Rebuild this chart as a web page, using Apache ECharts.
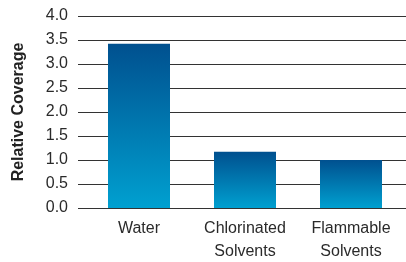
<!DOCTYPE html>
<html><head><meta charset="utf-8">
<script src="https://cdn.jsdelivr.net/npm/echarts@6/dist/echarts.min.js"></script>
<style>html,body{margin:0;padding:0;background:#fff}#c{width:406px;height:262px}</style>
</head><body><div id="c"></div>
<script>
var categories = ['Water', 'Chlorinated\nSolvents', 'Flammable\nSolvents'];
var coverage = [3.42, 1.17, 1.0];
var yTicks = { min: 0, max: 4, interval: 0.5 };
var yTitle = 'Relative Coverage';

var chart = echarts.init(document.getElementById('c'), null, { renderer: 'canvas' });
var font = '"Liberation Sans", Arial, sans-serif';
chart.setOption({
  animation: false,
  grid: [
    { left: 78, right: 0, top: 16, bottom: 54, containLabel: false, outerBoundsMode: 'none' },
    { left: 86, right: 2, top: 16, bottom: 54, containLabel: false, outerBoundsMode: 'none' }
  ],
  xAxis: [
    { type: 'category', gridIndex: 0, data: categories, show: false },
    { type: 'category', gridIndex: 1, data: categories,
      axisLine: { show: false }, axisTick: { show: false },
      axisLabel: { interval: 0, color: '#2a2a2a', fontFamily: font, fontSize: 16, lineHeight: 23, margin: 9 } }
  ],
  yAxis: [
    { type: 'value', gridIndex: 0, min: yTicks.min, max: yTicks.max, interval: yTicks.interval,
      axisLine: { show: false }, axisTick: { show: false },
      axisLabel: { color: '#2a2a2a', fontFamily: font, fontSize: 16, margin: 10,
        formatter: function (v) { return v.toFixed(1); } },
      splitLine: { show: true, lineStyle: { color: '#333', width: 1 } },
      name: yTitle, nameLocation: 'middle', nameGap: 51, nameRotate: 90,
      nameTextStyle: { color: '#222', fontFamily: font, fontSize: 16, fontWeight: 'bold' } },
    { type: 'value', gridIndex: 1, min: yTicks.min, max: yTicks.max, interval: yTicks.interval, show: false }
  ],
  series: [{
    type: 'bar', xAxisIndex: 1, yAxisIndex: 1, data: coverage, barWidth: 62, z: 1,
    itemStyle: { color: new echarts.graphic.LinearGradient(0, 0, 0, 1, [
      { offset: 0, color: '#00508f' }, { offset: 1, color: '#00a0d0' }]) }
  }]
});
</script></body></html>
